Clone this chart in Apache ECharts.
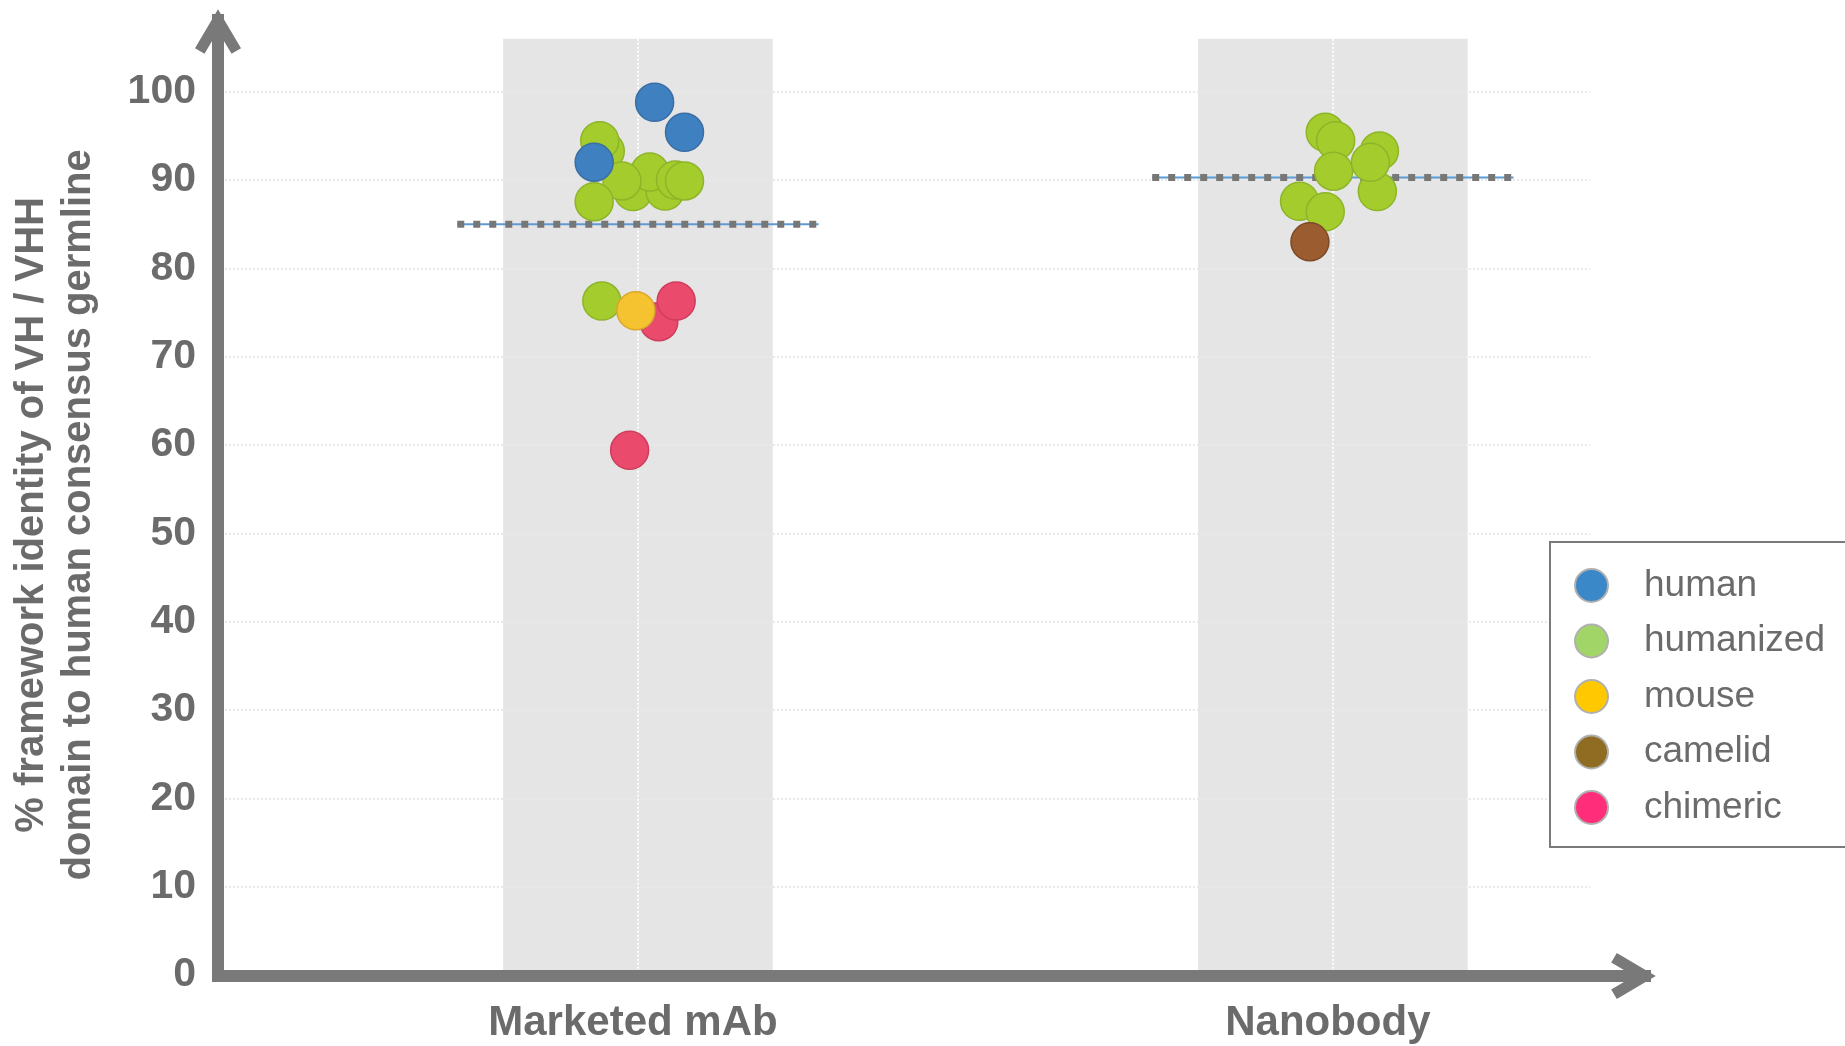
<!DOCTYPE html>
<html>
<head>
<meta charset="utf-8">
<script src="https://cdn.jsdelivr.net/npm/echarts@6/dist/echarts.min.js"></script>
<style>
html,body{margin:0;padding:0;background:#fff;}
#chart{width:1845px;height:1046px;}
</style>
</head>
<body>
<div id="chart"></div>
<script>
// ---- data ----
var categories = ['Marketed mAb', 'Nanobody'];
var categoryPos = [0.6, 1.6];
var yTicks = [0, 10, 20, 30, 40, 50, 60, 70, 80, 90, 100];
var meanValues = [85.0, 90.3];

var humanPts = [[0.624, 98.8], [0.667, 95.4], [0.537, 92.0]];
var humanizedPts = [
  [0.553, 93.3], [0.545, 94.45], [0.593, 88.7], [0.639, 88.75], [0.617, 90.9],
  [0.577, 89.9], [0.654, 90.0], [0.667, 89.9], [0.537, 87.55], [0.548, 76.3],
  [1.589, 95.4], [1.604, 94.45], [1.667, 93.3], [1.601, 91.0], [1.664, 88.7],
  [1.654, 92.0], [1.552, 87.6], [1.589, 86.4]
];
var mousePts = [[0.597, 75.2]];
var camelidPts = [[1.567, 83.0]];
var chimericPts = [[0.630, 73.96], [0.655, 76.3], [0.588, 59.4]];

// ---- styling ----
var axisColor = '#797979';
var textColor = '#6b6b6b';
var bandHalf = 0.194;
var meanHalf = 0.26;
var yMax = 106;

var pointStyles = {
  human:     {color: '#3f80c0', borderColor: '#3a6ea4', legend: '#3a88c8'},
  humanized: {color: '#a4cc2c', borderColor: '#8db52a', legend: '#a2d568'},
  mouse:     {color: '#f5c330', borderColor: '#d9a82a', legend: '#ffc800'},
  camelid:   {color: '#9b5c30', borderColor: '#7d4a28', legend: '#8f6c22'},
  chimeric:  {color: '#ea4a6c', borderColor: '#cf3d5c', legend: '#ff2d7a'}
};

function scatter(name, pts) {
  var s = pointStyles[name];
  return {
    name: name, type: 'scatter', xAxisIndex: 0, yAxisIndex: 0,
    data: pts, symbol: 'circle', symbolSize: 38,
    itemStyle: {color: s.color, borderColor: s.borderColor, borderWidth: 1.5, opacity: 1},
    emphasis: {disabled: true}, silent: true
  };
}

var meanLineSeries = [];
meanValues.forEach(function (v, i) {
  var seg = [[categoryPos[i] - meanHalf, v], [categoryPos[i] + meanHalf, v]];
  meanLineSeries.push({
    type: 'line', xAxisIndex: 0, yAxisIndex: 0, data: seg, showSymbol: false, silent: true,
    lineStyle: {color: '#5b9bd5', width: 2}, z: 2
  });
  meanLineSeries.push({
    type: 'line', xAxisIndex: 0, yAxisIndex: 0, data: seg, showSymbol: false, silent: true,
    lineStyle: {color: '#777777', width: 7, type: [7, 9], cap: 'butt'}, z: 2
  });
});

var bandData = categoryPos.map(function (c) { return [c - bandHalf, c + bandHalf]; });

var chevron = 'path://M24,0 L47,39 L37.5,44.6 L24,21.7 L10.5,44.6 L1,39 Z';

var chart = echarts.init(document.getElementById('chart'), null, {renderer: 'canvas'});
var option = {
  backgroundColor: '#ffffff',
  animation: false,
  textStyle: {fontFamily: 'Liberation Sans, Arial, sans-serif'},
  grid: [
    {left: 218, right: 255, top: 38.7, bottom: 71, containLabel: false},
    {left: 218, right: 200, top: 20, bottom: 70, containLabel: false}
  ],
  xAxis: [
    {
      gridIndex: 0, type: 'value', min: 0, max: 1.97,
      axisLine: {show: false},
      axisTick: {show: false, customValues: categoryPos},
      axisLabel: {
        customValues: categoryPos, margin: 27,
        fontSize: 42, fontWeight: 'bold', color: textColor, padding: [0, 10, 0, 0],
        formatter: function (v) { var i = categoryPos.indexOf(v); return i >= 0 ? categories[i] : ''; }
      },
      splitLine: {show: true, lineStyle: {color: 'rgba(255,255,255,0.9)', type: 'dotted', width: 2}}
    },
    {
      gridIndex: 1, type: 'value', min: 0, max: 1,
      axisLine: {show: true, onZero: false, symbol: ['none', chevron], symbolSize: [46, 47], symbolOffset: [0, -11.5],
        lineStyle: {color: axisColor, width: 12, cap: 'square'}},
      axisTick: {show: false}, axisLabel: {show: false}, splitLine: {show: false}
    }
  ],
  yAxis: [
    {
      gridIndex: 0, type: 'value', min: 0, max: yMax, interval: 10,
      axisLine: {show: false}, axisTick: {show: false},
      axisLabel: {
        margin: 25, fontSize: 41, fontWeight: 'bold', color: textColor, showMaxLabel: false,
        padding: [6, 0, 0, 0],
        formatter: function (v) { return yTicks.indexOf(v) >= 0 ? String(v) : ''; }
      },
      splitLine: {show: true, showMaxLine: false, lineStyle: {color: '#e9e9e9', type: 'dotted', width: 2}},
      name: '% framework identity of VH / VHH\ndomain to human consensus germline',
      nameLocation: 'middle', nameRotate: 90, nameGap: 118,
      nameTextStyle: {fontSize: 40, fontWeight: 'bold', color: textColor, lineHeight: 47.5, align: 'center',
        padding: [0, 16, 0, 0]}
    },
    {
      gridIndex: 1, type: 'value', min: 0, max: 1,
      axisLine: {show: true, onZero: false, symbol: ['none', chevron], symbolSize: [46, 47], symbolOffset: [0, -11.5],
        lineStyle: {color: axisColor, width: 12, cap: 'square'}},
      axisTick: {show: false}, axisLabel: {show: false}, splitLine: {show: false}
    }
  ],
  legend: {
    orient: 'vertical', left: 1550, top: 542,
    padding: [25, 60, 21, 24],
    borderColor: '#7a7a7a', borderWidth: 2, borderRadius: 0,
    backgroundColor: '#ffffff',
    icon: 'circle', itemWidth: 33, itemHeight: 33, itemGap: 18.5,
    itemStyle: {borderColor: '#b0b0b0', borderWidth: 2},
    textStyle: {fontSize: 37, color: textColor, padding: [0, 0, 0, 31]},
    selectedMode: false,
    data: ['human', 'humanized', 'mouse', 'camelid', 'chimeric'].map(function (n) {
      return {name: n, itemStyle: {color: pointStyles[n].legend}};
    })
  },
  series: [
    {
      type: 'custom', xAxisIndex: 0, yAxisIndex: 0, z: -1, silent: true,
      data: bandData,
      renderItem: function (params, api) {
        var p0 = api.coord([api.value(0), yMax]);
        var p1 = api.coord([api.value(1), 0]);
        return {type: 'rect', shape: {x: p0[0], y: p0[1], width: p1[0] - p0[0], height: p1[1] - p0[1]},
          style: {fill: '#e5e5e5'}};
      }
    }
  ].concat(meanLineSeries).concat([
    scatter('humanized', humanizedPts),
    scatter('chimeric', chimericPts),
    scatter('human', humanPts),
    scatter('mouse', mousePts),
    scatter('camelid', camelidPts)
  ])
};
chart.setOption(option);
</script>
</body>
</html>
